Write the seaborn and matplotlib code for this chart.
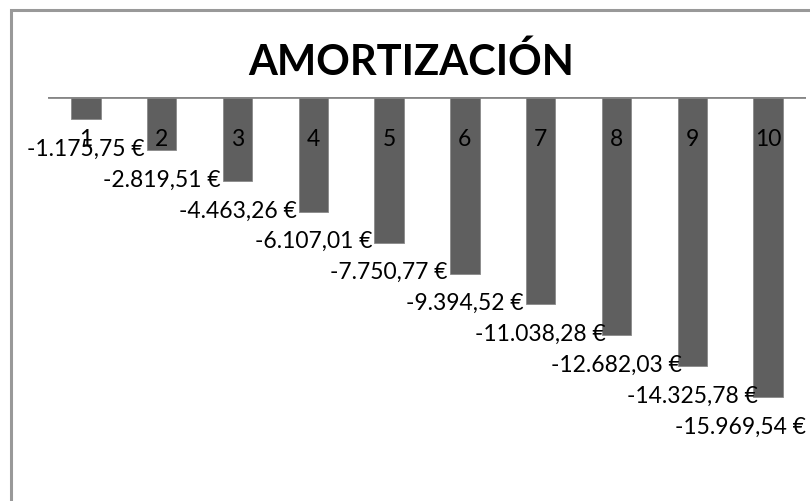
import matplotlib
matplotlib.use("Agg")
import matplotlib.pyplot as plt
from matplotlib.patches import Rectangle
import pandas as pd
import seaborn as sns

# Datos
periodos = ["1", "2", "3", "4", "5", "6", "7", "8", "9", "10"]
amortizacion = [-1175.75, -2819.51, -4463.26, -6107.01, -7750.77,
                -9394.52, -11038.28, -12682.03, -14325.78, -15969.54]
etiquetas = ["-1.175,75 €", "-2.819,51 €", "-4.463,26 €", "-6.107,01 €",
             "-7.750,77 €", "-9.394,52 €", "-11.038,28 €", "-12.682,03 €",
             "-14.325,78 €", "-15.969,54 €"]

df = pd.DataFrame({"periodo": periodos, "amortizacion": amortizacion})

sns.set_style("white")
plt.rcParams["font.family"] = ["Lato", "DejaVu Sans"]

fig = plt.figure(figsize=(8.1, 5.01), dpi=100)
ax = fig.add_axes([48 / 810, 0.0565, 758 / 810, 0.806 - 0.0565])

sns.barplot(data=df, x="periodo", y="amortizacion", color="#5f5f5f",
            saturation=1, width=0.39, edgecolor="#8a8a8a", linewidth=0.6, ax=ax)

ax.set_ylim(-20000, 0)
ax.set_xlim(-0.5, 9.5)
ax.set_axisbelow(False)
ax.axhline(0, color="#868686", lw=2, zorder=3)
for s in ax.spines.values():
    s.set_visible(False)
ax.set_yticks([])
ax.set_xlabel("")
ax.set_ylabel("")

# etiquetas del eje arriba, dibujadas por debajo de la linea de cero
ax.xaxis.tick_top()
ax.tick_params(axis="x", length=0, pad=-38, labelsize=16.5, labelcolor="black")

for i, (v, t) in enumerate(zip(amortizacion, etiquetas)):
    # la ultima etiqueta se corre a la izquierda para que quepa
    dx = -20 if i == len(etiquetas) - 1 else 0
    ax.annotate(t, (i, v), xytext=(dx, -21.5), textcoords="offset points",
                ha="center", va="center", fontsize=16.5, color="black")

fig.text(411 / 810, 1 - 75 / 501, "AMORTIZACIÓN", ha="center", va="baseline",
         fontsize=30, fontweight="bold", color="black")

fig.add_artist(Rectangle((10.5 / 810, -0.1), 1.2, 1.1 - 9.5 / 501,
                         transform=fig.transFigure, fill=False,
                         ec="#999999", lw=2.2, clip_on=False))

fig.savefig("out.png", dpi=100)
